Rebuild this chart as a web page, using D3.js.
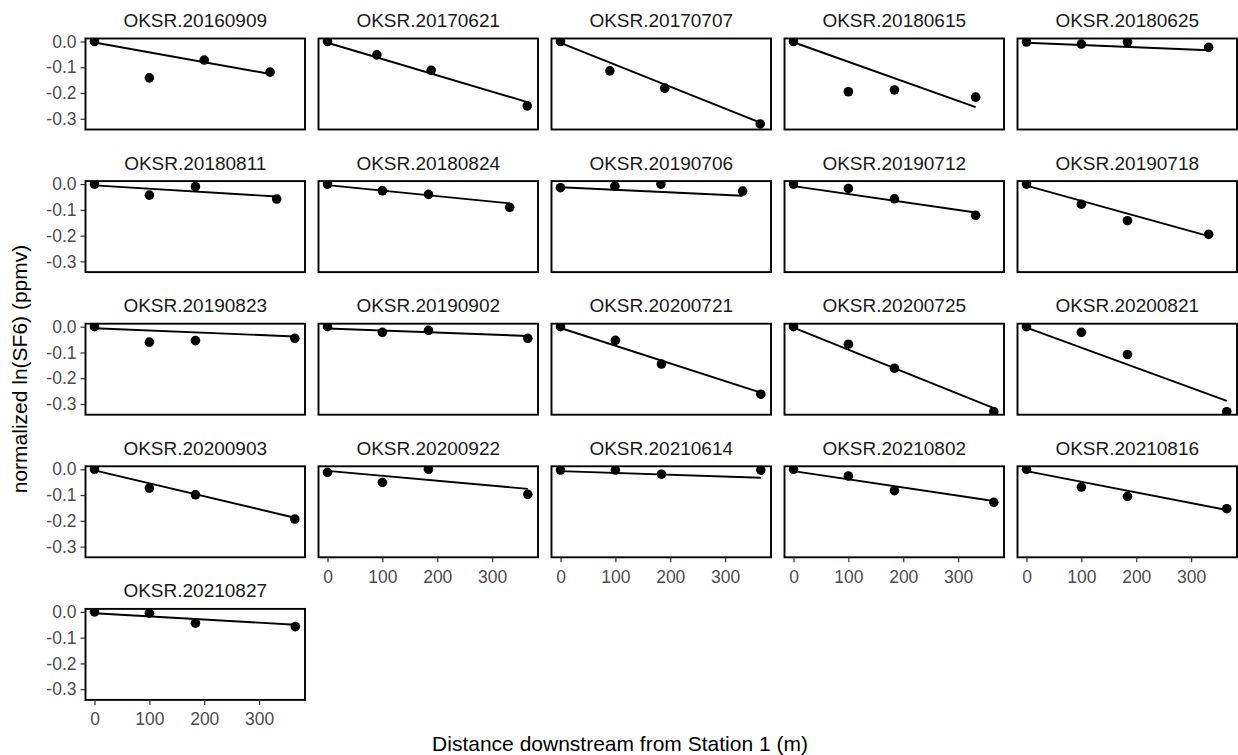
<!DOCTYPE html>
<html>
<head>
<meta charset="utf-8">
<script src="https://cdn.jsdelivr.net/npm/d3@7"></script>
<style>
  body { margin: 0; background: #fff; }
  svg { display: block; font-family: "Liberation Sans", Arial, Helvetica, sans-serif; }
</style>
</head>
<body>
<svg id="chart" width="1238" height="755"></svg>
<script>
// Survey dates (one facet each)
const surveys = [
  "OKSR.20160909", "OKSR.20170621", "OKSR.20170707", "OKSR.20180615", "OKSR.20180625",
  "OKSR.20180811", "OKSR.20180824", "OKSR.20190706", "OKSR.20190712", "OKSR.20190718",
  "OKSR.20190823", "OKSR.20190902", "OKSR.20200721", "OKSR.20200725", "OKSR.20200821",
  "OKSR.20200903", "OKSR.20200922", "OKSR.20210614", "OKSR.20210802", "OKSR.20210816",
  "OKSR.20210827"
];

// Distance of each sampling station downstream from Station 1 (m)
const distance = [
  [0, 100, 200, 320], [0, 90, 189, 364], [0, 90, 190, 364], [0, 100, 184, 332], [0, 100, 184, 332],
  [0, 100, 184, 332], [0, 100, 184, 332], [0, 99, 183, 332], [0, 100, 184, 332], [0, 100, 184, 332],
  [0, 100, 184, 365], [0, 100, 184, 365], [0, 100, 184, 365], [0, 100, 184, 365], [0, 100, 184, 365],
  [0, 100, 184, 365], [0, 100, 184, 365], [0, 100, 184, 365], [0, 100, 184, 365], [0, 100, 184, 365],
  [0, 100, 184, 366]
];

// Normalized ln(SF6) at each station (ppmv)
const lnSF6 = [
  [0, -0.141, -0.072, -0.119], [0, -0.052, -0.112, -0.250], [0, -0.114, -0.181, -0.320],
  [0, -0.195, -0.188, -0.216], [-0.002, -0.010, -0.002, -0.023],
  [0, -0.043, -0.010, -0.058], [0, -0.026, -0.040, -0.090], [-0.014, -0.008, 0, -0.027],
  [0, -0.017, -0.057, -0.121], [0, -0.078, -0.142, -0.195],
  [0, -0.060, -0.054, -0.045], [0, -0.022, -0.014, -0.045], [0, -0.053, -0.145, -0.262],
  [0, -0.068, -0.161, -0.330], [0, -0.022, -0.108, -0.330],
  [0, -0.073, -0.099, -0.193], [-0.012, -0.051, 0, -0.097], [-0.003, -0.003, -0.019, -0.003],
  [0, -0.026, -0.083, -0.128], [0, -0.069, -0.105, -0.153],
  [0, -0.005, -0.044, -0.057]
];

// Fitted decline: value at the first and at the last station
const fitAtStart = [
  -0.004, -0.005, -0.005, -0.003, -0.005,
  -0.005, -0.004, -0.012, -0.008, -0.006,
  -0.006, -0.007, -0.005, -0.004, -0.004,
  -0.004, -0.006, -0.007, -0.007, -0.007,
  -0.005
];
const fitAtEnd = [
  -0.126, -0.235, -0.315, -0.255, -0.034,
  -0.048, -0.075, -0.045, -0.110, -0.202,
  -0.038, -0.036, -0.256, -0.316, -0.288,
  -0.188, -0.076, -0.033, -0.123, -0.158,
  -0.050
];

const xTicks = [0, 100, 200, 300];
const yTicks = [0, -0.1, -0.2, -0.3];

// Facet grid layout
const nCol = 5;
const left0 = 85.5, colStep = 233;
const top0 = 38.5, rowStep = 142.6;
const pw = 219.5, ph = 91;

const svg = d3.select("#chart");

const x = d3.scaleLinear().domain([-16.4, 383.6]).range([0, pw]);
const y = d3.scaleLinear().domain([-0.3415, 0.0116]).range([ph, 0]);

const line = d3.line().x(d => x(d[0])).y(d => y(d[1]));

surveys.forEach((name, i) => {
  const col = i % nCol, row = Math.floor(i / nCol);
  const px = left0 + col * colStep, py = top0 + row * rowStep;
  const g = svg.append("g").attr("transform", `translate(${px},${py})`);

  const clipId = "clip" + i;
  g.append("clipPath").attr("id", clipId)
    .append("rect").attr("width", pw).attr("height", ph);

  const body = g.append("g").attr("clip-path", `url(#${clipId})`);

  const xs = distance[i], ys = lnSF6[i];
  const fit = [[xs[0], fitAtStart[i]], [xs[xs.length - 1], fitAtEnd[i]]];

  body.append("path")
    .attr("d", line(fit))
    .attr("fill", "none")
    .attr("stroke", "#000")
    .attr("stroke-width", 1.9);

  body.selectAll("circle")
    .data(xs.map((d, k) => [d, ys[k]]))
    .join("circle")
    .attr("cx", d => x(d[0]))
    .attr("cy", d => y(d[1]))
    .attr("r", 4.8)
    .attr("fill", "#000");

  g.append("rect")
    .attr("width", pw).attr("height", ph)
    .attr("fill", "none")
    .attr("stroke", "#000")
    .attr("stroke-width", 1.9);

  // strip label
  g.append("text")
    .attr("x", pw / 2).attr("y", -11.5)
    .attr("text-anchor", "middle")
    .attr("font-size", 19)
    .attr("fill", "#1a1a1a")
    .text(name);

  if (col === 0) {
    const ay = g.append("g")
      .call(d3.axisLeft(y).tickValues(yTicks).tickFormat(d => d.toFixed(1)).tickSize(5).tickPadding(4));
    ay.select(".domain").remove();
    ay.selectAll("line").attr("stroke", "#333").attr("stroke-width", 1.2);
    ay.selectAll("text").attr("font-size", 17.5).attr("fill", "#4d4d4d").attr("font-family", null);
  }
  if (i + nCol >= surveys.length) {
    const ax = g.append("g").attr("transform", `translate(0,${ph})`)
      .call(d3.axisBottom(x).tickValues(xTicks).tickFormat(d3.format("d")).tickSize(5).tickPadding(8));
    ax.select(".domain").remove();
    ax.selectAll("line").attr("stroke", "#333").attr("stroke-width", 1.2);
    ax.selectAll("text").attr("font-size", 17.5).attr("fill", "#4d4d4d").attr("font-family", null);
  }
});

// axis titles
svg.append("text")
  .attr("x", 620).attr("y", 751)
  .attr("text-anchor", "middle")
  .attr("font-size", 21)
  .attr("fill", "#000")
  .text("Distance downstream from Station 1 (m)");

svg.append("text")
  .attr("transform", "translate(27,369) rotate(-90)")
  .attr("text-anchor", "middle")
  .attr("font-size", 21)
  .attr("fill", "#000")
  .text("normalized ln(SF6) (ppmv)");
</script>
</body>
</html>
